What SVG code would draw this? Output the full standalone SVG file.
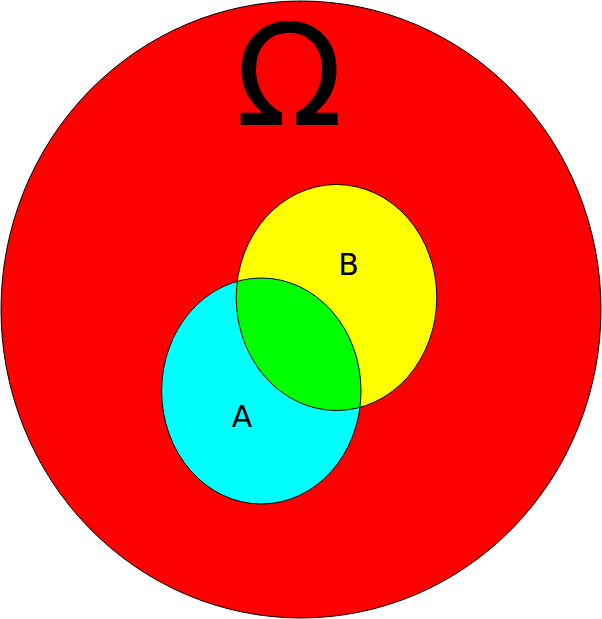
<svg xmlns="http://www.w3.org/2000/svg" width="602" height="619" viewBox="0 0 602 619">
<style>
.outline{fill:none;stroke:#000;stroke-width:1}
.lbl{font-family:"DejaVu Sans",sans-serif;fill:#000;text-anchor:middle}
</style>
<defs>
<clipPath id="clipA"><ellipse cx="261.3" cy="391" rx="99.7" ry="113"/></clipPath>
</defs>
<rect width="602" height="619" fill="#fff"/>
<g id="omega">
<ellipse cx="301" cy="309.5" rx="300" ry="308.5" fill="#ff0000" stroke="#000" stroke-width="1"/>
<text class="lbl" x="289" y="125" font-size="141">Ω</text>
</g>
<g id="setA">
<ellipse cx="261.3" cy="391" rx="99.7" ry="113" fill="#00ffff"/>
</g>
<g id="setB">
<ellipse cx="336.5" cy="297.5" rx="100.3" ry="113" fill="#ffff00"/>
</g>
<g id="intersection">
<ellipse cx="336.5" cy="297.5" rx="100.3" ry="113" fill="#00ff00" clip-path="url(#clipA)"/>
</g>
<g id="outlines">
<ellipse class="outline" cx="261.3" cy="391" rx="99.7" ry="113"/>
<ellipse class="outline" cx="336.5" cy="297.5" rx="100.3" ry="113"/>
</g>
<text class="lbl" x="348.5" y="275" font-size="30">B</text>
<text class="lbl" x="242" y="427" font-size="30">A</text>
</svg>
